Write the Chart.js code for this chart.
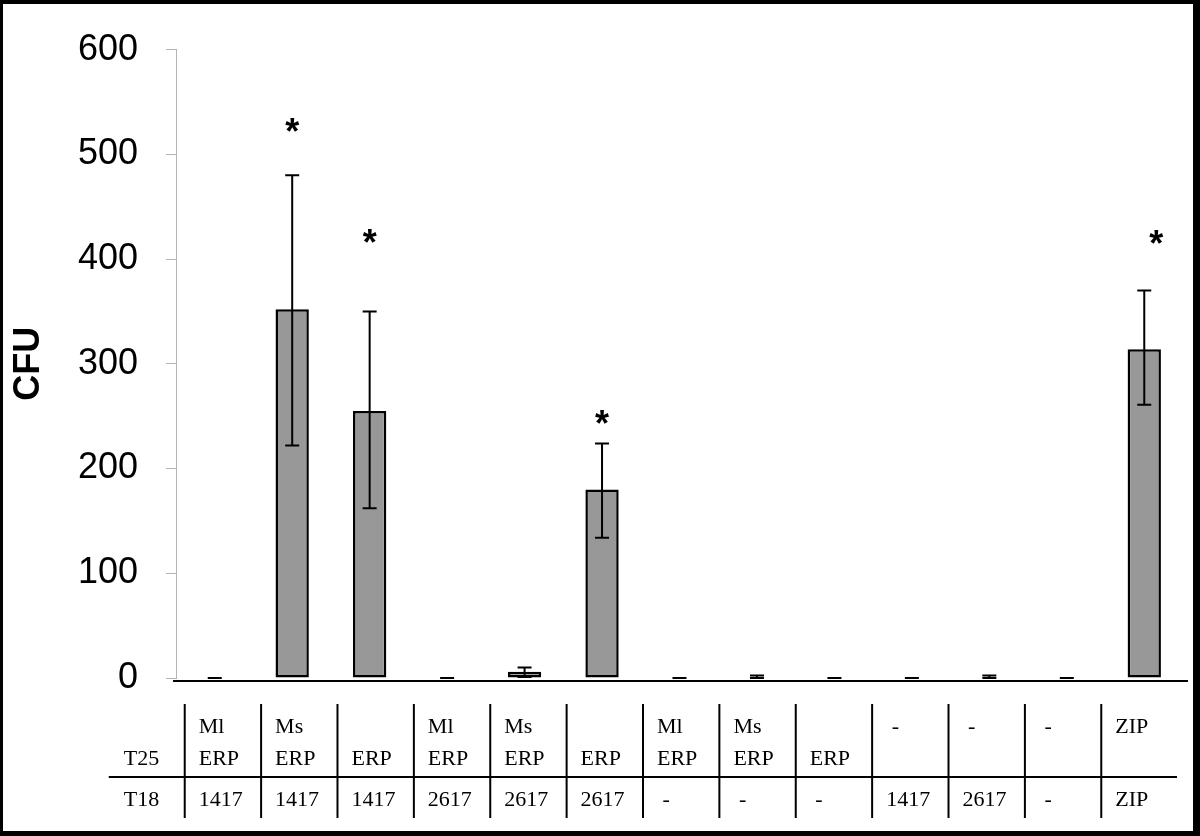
<!DOCTYPE html>
<html>
<head>
<meta charset="utf-8">
<script src="https://cdn.jsdelivr.net/npm/chart.js@4"></script>
<style>
  html, body { margin: 0; padding: 0; background: #fff; }
  #wrap { position: relative; width: 1200px; height: 836px; }
</style>
</head>
<body>
<div id="wrap"><canvas id="cfuChart"></canvas></div>
<script>
// table rows under the bars
const t25Labels = [['Ml', 'ERP'], ['Ms', 'ERP'], ['', 'ERP'], ['Ml', 'ERP'], ['Ms', 'ERP'], ['', 'ERP'],
  ['Ml', 'ERP'], ['Ms', 'ERP'], ['', 'ERP'], [' -', ''], [' -', ''], [' -', ''], ['ZIP', '']];
const t18Labels = ['1417', '1417', '1417', '2617', '2617', '2617', ' -', ' -', ' -', '1417', '2617', ' -', 'ZIP'];
const categories = t25Labels.map((t, i) => (t.join(' ').trim() + ' / ' + t18Labels[i].trim()));

// CFU means and error bar ends
const means   = [0, 352, 255, 0, 6, 180, 0, 0, 0, 0, 0, 0, 314];
const errLow  = [0, 222, 162, 0, 1, 134, 0, 0, 0, 0, 0, 0, 261];
const errHigh = [0, 480, 350, 0, 10, 224, 0, 2.5, 0, 0, 2.5, 0, 370];
// asterisks (height in CFU units, null = none)
const stars = [null, 530, 424, null, null, 251, null, null, null, null, null, null, 423];

const yTicks = [0, 100, 200, 300, 400, 500, 600];

const SERIF = "'Liberation Serif', 'Times New Roman', serif";
const SANS = "'Liberation Sans', Arial, sans-serif";

const overlay = {
  id: 'overlay',
  afterDatasetsDraw(chart) {
    const { ctx, scales: { x, y } } = chart;
    const zero = y.getPixelForValue(0);
    ctx.save();

    // error bars
    ctx.strokeStyle = '#000';
    ctx.lineWidth = 2;
    means.forEach((m, i) => {
      const cx = x.getPixelForValue(i);
      const yl = y.getPixelForValue(errLow[i]);
      const yh = y.getPixelForValue(errHigh[i]);
      ctx.beginPath();
      ctx.moveTo(cx, yl); ctx.lineTo(cx, yh);
      ctx.moveTo(cx - 7, yl); ctx.lineTo(cx + 7, yl);
      ctx.moveTo(cx - 7, yh); ctx.lineTo(cx + 7, yh);
      ctx.stroke();
    });

    // significance stars (last one sits a bit right of its bar)
    ctx.fillStyle = '#000';
    ctx.font = 'bold 36px ' + SANS;
    ctx.textAlign = 'center';
    ctx.textBaseline = 'alphabetic';
    stars.forEach((s, i) => {
      if (s === null) return;
      const shift = i === stars.length - 1 ? 12 : 0;
      ctx.fillText('*', x.getPixelForValue(i) + shift, y.getPixelForValue(s) + 21);
    });

    // x axis line, slightly below zero
    ctx.lineWidth = 2;
    ctx.beginPath();
    ctx.moveTo(x.left - 3, zero + 3);
    ctx.lineTo(x.right + 5, zero + 3);
    ctx.stroke();

    // table
    const colFirst = x.getPixelForValue(0) - 30;
    const colLast = x.getPixelForValue(t18Labels.length - 1) - 43;
    const step = (colLast - colFirst) / (t18Labels.length - 1);
    const top = zero + 26, bottom = zero + 140, mid = zero + 99;

    ctx.beginPath();
    ctx.moveTo(colFirst - 76, mid);
    ctx.lineTo(x.right - 6, mid);
    for (let i = 0; i < t18Labels.length; i++) {
      const lx = colFirst + i * step;
      ctx.moveTo(lx, top);
      ctx.lineTo(lx, bottom);
    }
    ctx.stroke();

    ctx.font = '22px ' + SERIF;
    ctx.textAlign = 'left';
    ctx.fillText('T25', colFirst - 61, zero + 87);
    ctx.fillText('T18', colFirst - 61, zero + 128);
    t25Labels.forEach((lines, i) => {
      const tx = colFirst + i * step + 14;
      ctx.fillText(lines[0], tx, zero + 55);
      ctx.fillText(lines[1], tx, zero + 87);
      ctx.fillText(t18Labels[i], tx, zero + 128);
    });
    ctx.restore();
  },
  afterDraw(chart) {
    // picture frame
    const { ctx, width, height } = chart;
    ctx.save();
    ctx.fillStyle = '#000';
    ctx.fillRect(0, 0, width, 4);
    ctx.fillRect(0, 0, 3, height);
    ctx.fillRect(width - 7, 0, 7, height);
    ctx.fillRect(0, height - 5, width, 5);
    ctx.restore();
  }
};

new Chart(document.getElementById('cfuChart'), {
  type: 'bar',
  data: {
    labels: categories,
    datasets: [{
      label: 'CFU',
      data: means,
      backgroundColor: '#989898',
      borderColor: '#000',
      borderWidth: c => (means[c.dataIndex] > 0 ? 2.5 : 0),
      borderSkipped: false,
      barPercentage: 0.43,
      categoryPercentage: 1
    }]
  },
  options: {
    responsive: true,
    maintainAspectRatio: false,
    animation: false,
    layout: { padding: { left: 3, top: 43, right: 17, bottom: 158 } },
    plugins: {
      legend: { display: false },
      tooltip: { enabled: false }
    },
    scales: {
      x: { display: false },
      y: {
        min: 0,
        max: 600,
        afterBuildTicks: s => { s.ticks = yTicks.map(v => ({ value: v })); },
        afterFit: s => { s.width = 173; },
        grid: { drawOnChartArea: false, drawTicks: true, tickLength: 10, color: '#b4b4b4' },
        border: { display: true, color: '#b4b4b4', width: 1 },
        ticks: { color: '#000', padding: 28, font: { family: SANS, size: 36 } },
        title: {
          display: true,
          text: 'CFU',
          color: '#000',
          font: { family: SANS, size: 36, weight: 'bold' },
          padding: { top: 4, bottom: 0 }
        }
      }
    }
  },
  plugins: [overlay]
});
</script>
</body>
</html>
